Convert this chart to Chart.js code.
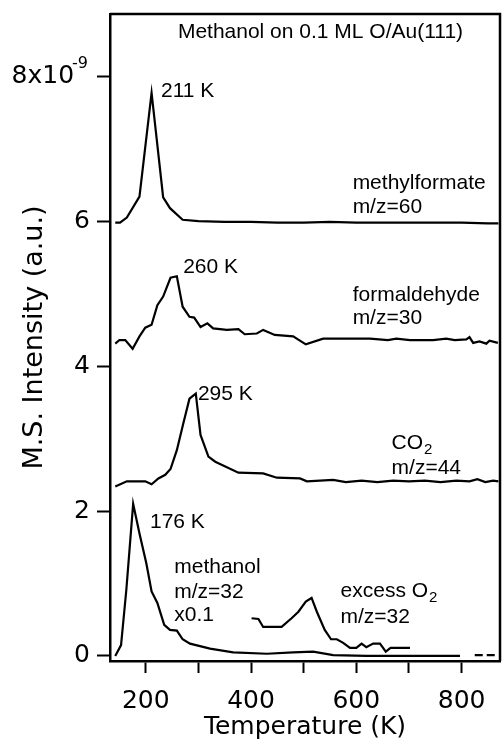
<!DOCTYPE html>
<html>
<head>
<meta charset="utf-8">
<script src="https://cdn.jsdelivr.net/npm/chart.js@4.4.0/dist/chart.umd.min.js"></script>
<style>
	body { margin: 0; background: #fff; }
</style>
</head>
<body>
<canvas id="mycanvas" width="502" height="742"></canvas>
<script>
// intensities are in units of 1e-9
var xTicks = [200, 300, 400, 500, 600, 700, 800];
var xLabels = [200, 400, 600, 800];
var yTicks = [0, 2, 4, 6, 8];

// methylformate m/z=60
var mfT = [142, 151, 164, 188, 211, 233, 246, 270, 300, 350, 400, 450, 500, 550, 600, 650, 700, 750, 800, 850, 870];
var mfV = [5.98, 5.98, 6.05, 6.34, 7.77, 6.33, 6.18, 6.02, 6.00, 5.99, 5.99, 5.98, 5.98, 5.99, 5.98, 5.98, 5.98, 5.98, 5.98, 5.97, 5.97];

// formaldehyde m/z=30
var fmT = [142, 150, 161, 175, 188, 199, 211, 222, 233, 240, 247, 259, 270, 283, 292, 304, 317, 328, 354, 376, 388, 411, 423, 445, 480, 504, 537, 581, 626, 660, 676, 702, 746, 771, 787, 809, 815, 822, 834, 847, 853, 869];
var fmV = [4.31, 4.36, 4.36, 4.24, 4.41, 4.53, 4.57, 4.84, 4.96, 5.09, 5.22, 5.24, 4.82, 4.68, 4.67, 4.54, 4.59, 4.52, 4.50, 4.51, 4.44, 4.45, 4.50, 4.43, 4.41, 4.30, 4.38, 4.38, 4.38, 4.36, 4.38, 4.36, 4.36, 4.38, 4.36, 4.37, 4.40, 4.32, 4.34, 4.31, 4.35, 4.32];

// CO2 m/z=44
var co2T = [142, 164, 199, 211, 224, 237, 247, 259, 271, 283, 295, 304, 319, 332, 347, 376, 423, 449, 493, 506, 556, 580, 610, 640, 670, 700, 730, 760, 790, 815, 830, 845, 860, 870];
var co2V = [2.34, 2.41, 2.41, 2.37, 2.45, 2.50, 2.58, 2.84, 3.20, 3.55, 3.62, 3.05, 2.75, 2.68, 2.63, 2.53, 2.52, 2.46, 2.45, 2.41, 2.43, 2.40, 2.42, 2.40, 2.42, 2.41, 2.42, 2.40, 2.42, 2.41, 2.44, 2.40, 2.42, 2.41];

// methanol m/z=32 (x0.1)
var meT = [142, 153, 163, 176, 188, 201, 211, 222, 235, 246, 259, 270, 284, 322, 366, 430, 480, 518, 556, 619, 702, 797];
var meV = [0.00, 0.15, 0.91, 2.10, 1.69, 1.28, 0.89, 0.73, 0.43, 0.36, 0.35, 0.23, 0.17, 0.10, 0.05, 0.03, 0.05, 0.06, 0.01, 0.00, 0.00, 0.00];
var meTailT = [825, 870];
var meTailV = [0.01, 0.01];

// excess O2 m/z=32
var o2T = [401, 414, 423, 458, 477, 490, 504, 515, 525, 540, 552, 563, 575, 588, 600, 610, 619, 632, 645, 656, 665, 702];
var o2V = [0.52, 0.51, 0.40, 0.40, 0.52, 0.61, 0.75, 0.80, 0.61, 0.36, 0.23, 0.23, 0.18, 0.11, 0.11, 0.17, 0.12, 0.17, 0.17, 0.06, 0.11, 0.11];

// text labels, anchored at data coordinates (left edge, middle)
var notes = [
	{ t: 261, v: 8.61, text: 'Methanol on 0.1 ML O/Au(111)' },
	{ t: 229, v: 7.79, text: '211 K' },
	{ t: 593, v: 6.52, text: 'methylformate' },
	{ t: 593, v: 6.20, text: 'm/z=60' },
	{ t: 271, v: 5.37, text: '260 K' },
	{ t: 593, v: 4.98, text: 'formaldehyde' },
	{ t: 593, v: 4.66, text: 'm/z=30' },
	{ t: 299, v: 3.61, text: '295 K' },
	{ t: 667, v: 2.94, text: 'CO', sub: '2' },
	{ t: 667, v: 2.59, text: 'm/z=44' },
	{ t: 208, v: 1.85, text: '176 K' },
	{ t: 254, v: 1.23, text: 'methanol' },
	{ t: 254, v: 0.88, text: 'm/z=32' },
	{ t: 254, v: 0.56, text: 'x0.1' },
	{ t: 570, v: 0.90, text: 'excess O', sub: '2' },
	{ t: 570, v: 0.54, text: 'm/z=32' }
];

function pts(xs, ys) {
	var out = [];
	for (var i in xs) {
		out.push({ x: xs[i], y: ys[i] });
	}
	return out;
}

function trace(label, xs, ys, dash) {
	return {
		label: label,
		data: pts(xs, ys),
		showLine: true,
		borderColor: '#000',
		borderWidth: 2.2,
		borderDash: dash || [],
		pointRadius: 0,
		tension: 0,
		fill: false
	};
}

var frame = {
	id: 'frame',
	afterDraw: function(chart) {
		var a = chart.chartArea;
		var ctx = chart.ctx;
		ctx.save();
		ctx.strokeStyle = '#000';
		ctx.lineWidth = 2.5;
		ctx.beginPath();
		ctx.moveTo(a.left, a.top);
		ctx.lineTo(a.right, a.top);
		ctx.lineTo(a.right, a.bottom);
		ctx.stroke();

		// exponent of the top y tick label
		var ys = chart.scales.y;
		ctx.fillStyle = '#000';
		ctx.font = '16px "DejaVu Sans"';
		ctx.textAlign = 'left';
		ctx.textBaseline = 'middle';
		ctx.fillText('-9', ys.right - 38, ys.getPixelForValue(8) - 12);
		ctx.restore();
	}
};

var labels = {
	id: 'labels',
	afterDatasetsDraw: function(chart) {
		var ctx = chart.ctx;
		var xs = chart.scales.x;
		var ys = chart.scales.y;
		ctx.save();
		ctx.fillStyle = '#000';
		ctx.textBaseline = 'middle';
		ctx.textAlign = 'left';
		for (var i in notes) {
			var n = notes[i];
			var px = xs.getPixelForValue(n.t);
			var py = ys.getPixelForValue(n.v);
			ctx.font = '21px "Liberation Sans", Arial, sans-serif';
			ctx.fillText(n.text, px, py);
			if (n.sub) {
				var w = ctx.measureText(n.text).width;
				ctx.font = '15px "Liberation Sans", Arial, sans-serif';
				ctx.fillText(n.sub, px + w + 1, py + 7);
			}
		}
		ctx.restore();
	}
};

var axisFont = { family: 'DejaVu Sans', size: 25 };

var ctx = document.getElementById('mycanvas');

var chart = new Chart(ctx, {
	type: 'scatter',
	data: {
		datasets: [
			trace('methylformate', mfT, mfV),
			trace('formaldehyde', fmT, fmV),
			trace('CO2', co2T, co2V),
			trace('methanol', meT, meV),
			trace('methanol tail', meTailT, meTailV, [8, 4]),
			trace('excess O2', o2T, o2V)
		]
	},
	options: {
		responsive: false,
		animation: false,
		layout: { padding: { top: 14, right: 2, bottom: 0, left: 0 } },
		plugins: {
			legend: { display: false },
			tooltip: { enabled: false }
		},
		scales: {
			x: {
				type: 'linear',
				min: 132,
				max: 873,
				afterBuildTicks: function(scale) {
					scale.ticks = xTicks.map(function(v) { return { value: v }; });
				},
				afterFit: function(scale) {
					scale.height = 81;
					scale.paddingLeft = 0;
					scale.paddingRight = 0;
				},
				ticks: {
					autoSkip: false,
					maxRotation: 0,
					padding: 13,
					color: '#000',
					font: axisFont,
					callback: function(v) { return xLabels.indexOf(v) >= 0 ? String(v) : ''; }
				},
				grid: { drawOnChartArea: false, tickLength: 12, tickWidth: 2, tickColor: '#000' },
				border: { color: '#000', width: 2.5 },
				title: { display: true, text: 'Temperature (K)', color: '#000', font: axisFont, padding: { top: 0, bottom: 0 } }
			},
			y: {
				type: 'linear',
				min: -0.07,
				max: 8.86,
				afterBuildTicks: function(scale) {
					scale.ticks = yTicks.map(function(v) { return { value: v }; });
				},
				afterFit: function(scale) {
					scale.width = 110;
					scale.paddingTop = 0;
					scale.paddingBottom = 0;
				},
				ticks: {
					padding: 7,
					color: '#000',
					font: axisFont,
					callback: function(v) { return v === 8 ? '8x10  ' : String(v); }
				},
				grid: { drawOnChartArea: false, tickLength: 13, tickWidth: 2, tickColor: '#000' },
				border: { color: '#000', width: 2.5 },
				title: { display: true, text: 'M.S. Intensity (a.u.)', color: '#000', font: { family: 'DejaVu Sans', size: 27 }, padding: { top: 19, bottom: 0 } }
			}
		}
	},
	plugins: [frame, labels]
});
</script>
</body>
</html>
